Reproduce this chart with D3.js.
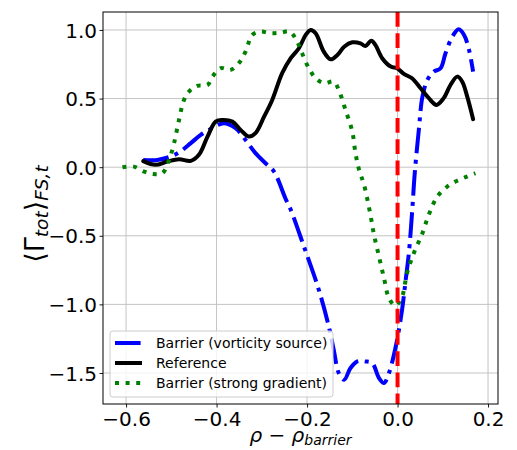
<!DOCTYPE html>
<html>
<head>
<meta charset="utf-8">
<script src="https://cdn.jsdelivr.net/npm/d3@7"></script>
<style>
  html, body { margin: 0; padding: 0; background: #fff; }
  svg { display: block; font-family: "DejaVu Sans", sans-serif; }
</style>
</head>
<body>
<svg id="chart" width="517" height="450"></svg>
<script>
// Flux-surface and time averaged total flux versus distance to the barrier
const xTicks = [-0.6, -0.4, -0.2, 0.0, 0.2];
const yTicks = [-1.5, -1.0, -0.5, 0.0, 0.5, 1.0];
const seriesNames = ["Barrier (vorticity source)", "Reference", "Barrier (strong gradient)"];

const vortX = [-0.562, -0.531, -0.502, -0.480, -0.457, -0.435, -0.410, -0.384, -0.358, -0.336, -0.314, -0.288,
  -0.273, -0.248, -0.236, -0.207, -0.174, -0.152, -0.141, -0.130, -0.118, -0.104, -0.089, -0.071, -0.056,
  -0.041, -0.030, -0.019, -0.004, 0.010, 0.018, 0.025, 0.032, 0.038, 0.047, 0.055, 0.066, 0.080, 0.095,
  0.106, 0.121, 0.135, 0.147, 0.158, 0.167];
const vortY = [0.053, 0.053, 0.077, 0.114, 0.175, 0.235, 0.284, 0.320, 0.284, 0.199, 0.102, 0.017,
  -0.032, -0.226, -0.311, -0.578, -0.894, -1.161, -1.331, -1.500, -1.549, -1.464, -1.416, -1.416, -1.428,
  -1.537, -1.573, -1.500, -1.307, -1.039, -0.821, -0.626, -0.335, -0.044, 0.272, 0.514, 0.636, 0.696, 0.721,
  0.830, 0.951, 1.005, 0.964, 0.854, 0.696];

const refX = [-0.562, -0.535, -0.509, -0.483, -0.457, -0.439, -0.420, -0.402, -0.387, -0.365, -0.347, -0.329,
  -0.314, -0.295, -0.277, -0.255, -0.236, -0.218, -0.203, -0.192, -0.181, -0.163, -0.148, -0.133, -0.118,
  -0.100, -0.082, -0.071, -0.058, -0.049, -0.034, -0.015, -0.001, 0.014, 0.032, 0.051, 0.069, 0.086, 0.102,
  0.117, 0.132, 0.143, 0.154, 0.167];
const refY = [0.044, 0.017, 0.041, 0.058, 0.046, 0.090, 0.223, 0.332, 0.344, 0.332, 0.272, 0.223,
  0.248, 0.368, 0.490, 0.685, 0.794, 0.867, 0.964, 1.000, 0.976, 0.842, 0.786, 0.818, 0.878,
  0.910, 0.903, 0.883, 0.922, 0.891, 0.794, 0.733, 0.721, 0.680, 0.648, 0.575, 0.503, 0.454, 0.503,
  0.599, 0.660, 0.623, 0.514, 0.350];

const gradX = [-0.608, -0.583, -0.560, -0.542, -0.520, -0.505, -0.494, -0.483, -0.472, -0.461, -0.443, -0.420,
  -0.409, -0.391, -0.369, -0.351, -0.336, -0.321, -0.303, -0.281, -0.259, -0.238, -0.222, -0.211, -0.196,
  -0.181, -0.163, -0.141, -0.130, -0.115, -0.100, -0.093, -0.085, -0.074, -0.060, -0.052, -0.041, -0.030,
  -0.019, -0.005, 0.010, 0.021, 0.036, 0.055, 0.069, 0.088, 0.110, 0.128, 0.150, 0.172];
const gradY = [0.000, 0.004, -0.032, -0.049, -0.044, 0.053, 0.175, 0.344, 0.490, 0.551, 0.592, 0.599,
  0.660, 0.721, 0.709, 0.757, 0.842, 0.964, 0.988, 0.976, 0.980, 0.988, 0.915, 0.830, 0.721,
  0.648, 0.612, 0.623, 0.563, 0.417, 0.259, 0.102, -0.020, -0.129, -0.347, -0.493, -0.651, -0.808,
  -0.954, -1.010, -0.942, -0.772, -0.626, -0.481, -0.347, -0.214, -0.141, -0.105, -0.073, -0.044];

const barrierPos = 0.0;

const svg = d3.select("#chart");
const margin = { left: 103, right: 19, top: 12, bottom: 46 };
const W = 517, H = 450;
const x = d3.scaleLinear().domain([-0.651, 0.222]).range([margin.left, W - margin.right]);
const y = d3.scaleLinear().domain([-1.726, 1.131]).range([H - margin.bottom, margin.top]);

const plotL = x.range()[0], plotR = x.range()[1];
const plotT = y.range()[1], plotB = y.range()[0];

svg.append("defs").append("clipPath").attr("id", "clip")
  .append("rect").attr("x", plotL).attr("y", plotT)
  .attr("width", plotR - plotL).attr("height", plotB - plotT);

// grid
const grid = svg.append("g");
grid.selectAll("line.gx").data(xTicks).join("line")
  .attr("x1", d => x(d)).attr("x2", d => x(d))
  .attr("y1", plotT).attr("y2", plotB)
  .attr("stroke", "#c4c4c4").attr("stroke-width", 1);
grid.selectAll("line.gy").data(yTicks).join("line")
  .attr("y1", d => y(d)).attr("y2", d => y(d))
  .attr("x1", plotL).attr("x2", plotR)
  .attr("stroke", "#c4c4c4").attr("stroke-width", 1);

// axes
const fmt = d => d3.format(".1f")(d).replace("-", "\u2212");
const xAxis = d3.axisBottom(x).tickValues(xTicks).tickFormat(fmt).tickSizeOuter(0).tickSize(3.5).tickPadding(4);
const yAxis = d3.axisLeft(y).tickValues(yTicks).tickFormat(fmt).tickSizeOuter(0).tickSize(3.5).tickPadding(2.5);

const gx = svg.append("g").attr("transform", `translate(0,${plotB})`).call(xAxis);
const gy = svg.append("g").attr("transform", `translate(${plotL},0)`).call(yAxis);
[gx, gy].forEach(g => {
  g.select(".domain").remove();
  g.selectAll("text").attr("font-size", 20).attr("font-family", "DejaVu Sans").attr("fill", "#000");
  g.selectAll("line").attr("stroke", "#000").attr("stroke-width", 0.9);
});
gy.selectAll("text").attr("dy", "0.36em");

// series
const line = d3.line().x(d => x(d[0])).y(d => y(d[1])).curve(d3.curveCatmullRom.alpha(0.5));
const zip = (a, b) => a.map((v, i) => [v, b[i]]);

const series = [
  { name: seriesNames[0], data: zip(vortX, vortY), color: "#0000ff", dash: "25.6,6.4,4,6.4" },
  { name: seriesNames[1], data: zip(refX, refY), color: "#000000", dash: null },
  { name: seriesNames[2], data: zip(gradX, gradY), color: "#008000", dash: "4,6.6" }
];

const plot = svg.append("g").attr("clip-path", "url(#clip)");
series.forEach(s => {
  plot.append("path").datum(s.data)
    .attr("d", line)
    .attr("fill", "none")
    .attr("stroke", s.color)
    .attr("stroke-width", 4)
    .attr("stroke-linejoin", "round")
    .attr("stroke-linecap", s.dash ? "butt" : "round")
    .attr("stroke-dasharray", s.dash);
});

// barrier position
plot.append("line")
  .attr("x1", x(barrierPos)).attr("x2", x(barrierPos))
  .attr("y1", plotT).attr("y2", plotB)
  .attr("stroke", "#ff0000").attr("stroke-width", 4)
  .attr("stroke-dasharray", "14.8,6.4");

// frame
svg.append("rect").attr("x", plotL).attr("y", plotT)
  .attr("width", plotR - plotL).attr("height", plotB - plotT)
  .attr("fill", "none").attr("stroke", "#000").attr("stroke-width", 1);

// axis labels
const xl = svg.append("text")
  .attr("x", (plotL + plotR) / 2).attr("y", 442)
  .attr("text-anchor", "middle").attr("font-size", 20)
  .attr("font-family", "DejaVu Sans");
xl.append("tspan").attr("font-style", "italic").text("\u03C1");
xl.append("tspan").text(" \u2212 ");
xl.append("tspan").attr("font-style", "italic").text("\u03C1");
xl.append("tspan").attr("font-style", "italic").attr("font-size", 14).attr("dy", 3).text("barrier");

const yl = svg.append("text")
  .attr("transform", `translate(44,214) rotate(-90)`)
  .attr("text-anchor", "middle").attr("font-size", 27)
  .attr("font-family", "DejaVu Sans");
yl.append("tspan").text("\u27E8\u0393");
yl.append("tspan").attr("font-style", "italic").attr("font-size", 18.5).attr("dy", 4).text("tot");
yl.append("tspan").attr("dy", -4).text("\u27E9");
yl.append("tspan").attr("font-style", "italic").attr("font-size", 18.5).attr("dy", 4).text("FS,t");

// legend
const lg = svg.append("g");
lg.append("rect")
  .attr("x", 110).attr("y", 331).attr("width", 223).attr("height", 66)
  .attr("rx", 3).attr("fill", "#fff").attr("fill-opacity", 0.8)
  .attr("stroke", "#cccccc").attr("stroke-width", 1);
series.forEach((s, i) => {
  const yy = 343 + i * 20;
  lg.append("line").attr("x1", 115).attr("x2", 142).attr("y1", yy).attr("y2", yy)
    .attr("stroke", s.color).attr("stroke-width", 4)
    .attr("stroke-dasharray", s.dash);
  lg.append("text").attr("x", 156).attr("y", yy).attr("dy", "0.36em")
    .attr("font-size", 14).attr("font-family", "DejaVu Sans").text(s.name);
});
</script>
</body>
</html>
